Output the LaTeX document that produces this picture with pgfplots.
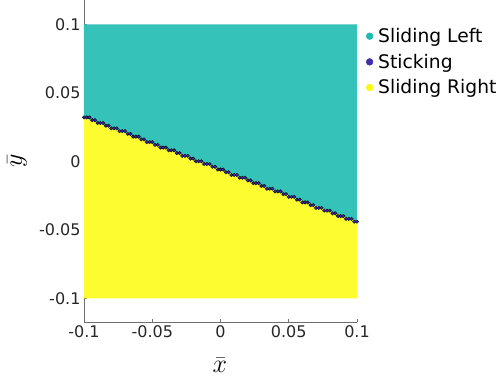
\documentclass[border=0pt]{standalone}
\usepackage{fix-cm}
\usepackage{pgfplots}
\pgfplotsset{compat=1.18}
\usepackage{fontspec}
\setmainfont{DejaVu Sans}
\definecolor{tealc}{RGB}{31,186,176}
\definecolor{tealfill}{RGB}{52,194,185}
\definecolor{purp}{RGB}{66,44,170}
\definecolor{yel}{RGB}{249,251,14}
\definecolor{yelfill}{RGB}{252,252,48}
\definecolor{axgray}{RGB}{110,110,110}
\definecolor{txt}{RGB}{38,38,38}
\begin{document}
\begin{tikzpicture}
\begin{axis}[
  at={(0,0)}, anchor=south west,
  scale only axis, width=273pt, height=322pt,
  xmin=-0.1, xmax=0.1, ymin=-0.1175, ymax=0.1175,
  axis lines*=left,
  axis line style={axgray, line width=0.6pt},
  tick style={axgray, line width=0.6pt},
  major tick length=3pt, tick align=inside,
  xtick={-0.1,-0.05,0,0.05,0.1},
  xticklabels={-0.1,-0.05,0,0.05,0.1},
  ytick={-0.1,-0.05,0,0.05,0.1},
  yticklabels={-0.1,-0.05,0,0.05,0.1},
  tick label style={font=\fontsize{16}{19}\selectfont, text=txt},
  /pgf/number format/assume math mode=true,
  xlabel={\fontsize{26}{30}\selectfont$\bar{x}$}, ylabel={\fontsize{26}{30}\selectfont$\bar{y}$},
  xlabel style={at={(axis description cs:0.498,-0.134)}, anchor=center},
  ylabel style={at={(axis description cs:-0.245,0.5)}, anchor=center},
  legend style={draw=none, fill=none, at={(axis description cs:1.025,0.926)}, anchor=north west,
    font=\fontsize{18.7}{22}\selectfont, text=black, row sep=6pt, inner xsep=2pt,
    /tikz/every odd column/.append style={column sep=3pt}},
  legend cell align=left,
  clip=false,
]
\addplot[fill=tealfill, draw=none, forget plot] coordinates {(-0.1,0.1) (0.1,0.1) (0.1,-0.044) (-0.1,0.032)} -- cycle;
\addplot[fill=yelfill, draw=none, forget plot] coordinates {(-0.1,0.032) (0.1,-0.044) (0.1,-0.1) (-0.1,-0.1)} -- cycle;
\addplot[only marks, mark=*, mark size=1.75pt, mark options={draw=none, fill=purp}, forget plot] coordinates {
(-0.100,0.032)(-0.098,0.032)(-0.096,0.032)(-0.094,0.030)(-0.092,0.030)
(-0.090,0.028)(-0.088,0.028)(-0.086,0.028)(-0.084,0.026)(-0.082,0.026)
(-0.080,0.024)(-0.078,0.024)(-0.076,0.024)(-0.074,0.022)(-0.072,0.022)
(-0.070,0.022)(-0.068,0.020)(-0.066,0.020)(-0.064,0.018)(-0.062,0.018)
(-0.060,0.018)(-0.058,0.016)(-0.056,0.016)(-0.054,0.014)(-0.052,0.014)
(-0.050,0.014)(-0.048,0.012)(-0.046,0.012)(-0.044,0.010)(-0.042,0.010)
(-0.040,0.010)(-0.038,0.008)(-0.036,0.008)(-0.034,0.008)(-0.032,0.006)
(-0.030,0.006)(-0.028,0.004)(-0.026,0.004)(-0.024,0.004)(-0.022,0.002)
(-0.020,0.002)(-0.018,0.000)(-0.016,0.000)(-0.014,0.000)(-0.012,-0.002)
(-0.010,-0.002)(-0.008,-0.002)(-0.006,-0.004)(-0.004,-0.004)(-0.002,-0.006)
(0.000,-0.006)(0.002,-0.006)(0.004,-0.008)(0.006,-0.008)(0.008,-0.010)
(0.010,-0.010)(0.012,-0.010)(0.014,-0.012)(0.016,-0.012)(0.018,-0.012)
(0.020,-0.014)(0.022,-0.014)(0.024,-0.016)(0.026,-0.016)(0.028,-0.016)
(0.030,-0.018)(0.032,-0.018)(0.034,-0.020)(0.036,-0.020)(0.038,-0.020)
(0.040,-0.022)(0.042,-0.022)(0.044,-0.022)(0.046,-0.024)(0.048,-0.024)
(0.050,-0.026)(0.052,-0.026)(0.054,-0.026)(0.056,-0.028)(0.058,-0.028)
(0.060,-0.030)(0.062,-0.030)(0.064,-0.030)(0.066,-0.032)(0.068,-0.032)
(0.070,-0.034)(0.072,-0.034)(0.074,-0.034)(0.076,-0.036)(0.078,-0.036)
(0.080,-0.036)(0.082,-0.038)(0.084,-0.038)(0.086,-0.040)(0.088,-0.040)
(0.090,-0.040)(0.092,-0.042)(0.094,-0.042)(0.096,-0.042)(0.098,-0.044)
(0.100,-0.044)
};
\addlegendimage{legend image code/.code={\fill[tealc] (0.15cm,0cm) circle (3.4pt);}}
\addlegendentry{Sliding Left}
\addlegendimage{legend image code/.code={\fill[purp] (0.15cm,0cm) circle (3.4pt);}}
\addlegendentry{Sticking}
\addlegendimage{legend image code/.code={\fill[yel] (0.15cm,0cm) circle (3.4pt);}}
\addlegendentry{Sliding Right}
\end{axis}
\path[use as bounding box] (-84pt,-57pt) rectangle (417pt,322pt);
\end{tikzpicture}
\end{document}
